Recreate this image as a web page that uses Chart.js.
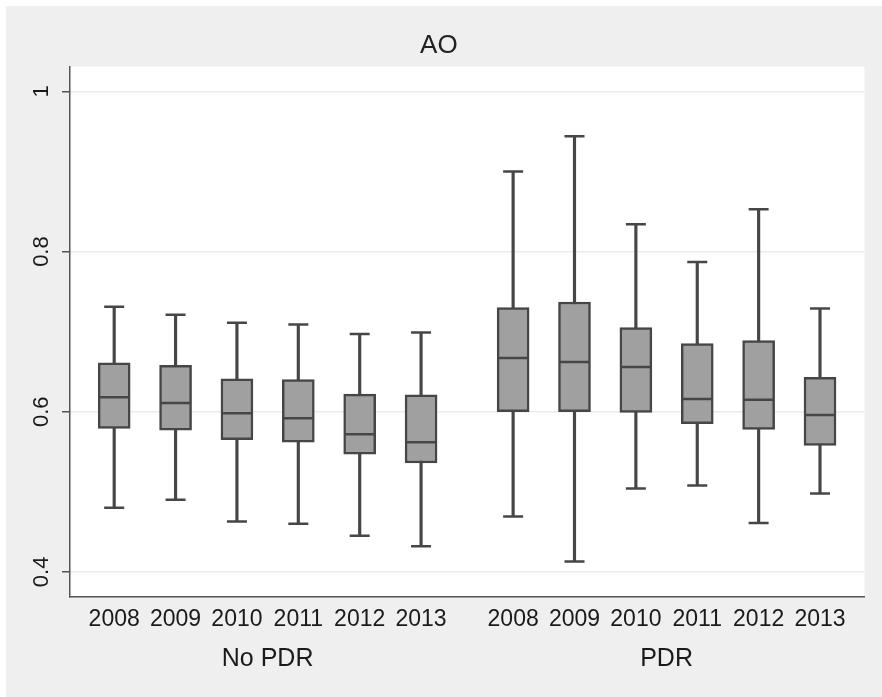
<!DOCTYPE html>
<html>
<head>
<meta charset="utf-8">
<script src="https://cdn.jsdelivr.net/npm/chart.js@4.4.1/dist/chart.umd.min.js"></script>
<style>
  html, body { margin: 0; padding: 0; background: #fff; }
  #wrap { position: absolute; left: 6px; top: 6px; width: 876px; height: 691px; }
</style>
</head>
<body>
<div id="wrap"><canvas id="chart" width="876" height="691"></canvas></div>
<script>
const years = ['2008', '2009', '2010', '2011', '2012', '2013'];
const groups = ['No PDR', 'PDR'];
const yTicks = [0.4, 0.6, 0.8, 1];
const yTickLabels = ['0.4', '0.6', '0.8', '1'];

// box plot stats per year: lower whisker, q1, median, q3, upper whisker
const noPdrMin = [0.480, 0.490, 0.463, 0.460, 0.445, 0.432];
const noPdrQ1 = [0.579, 0.577, 0.565, 0.562, 0.547, 0.536];
const noPdrMed = [0.618, 0.611, 0.598, 0.592, 0.572, 0.562];
const noPdrQ3 = [0.661, 0.658, 0.641, 0.640, 0.622, 0.621];
const noPdrMax = [0.731, 0.721, 0.711, 0.709, 0.697, 0.699];

const pdrMin = [0.469, 0.413, 0.504, 0.508, 0.461, 0.498];
const pdrQ1 = [0.600, 0.600, 0.599, 0.585, 0.578, 0.558];
const pdrMed = [0.667, 0.662, 0.656, 0.616, 0.615, 0.596];
const pdrQ3 = [0.730, 0.737, 0.705, 0.685, 0.689, 0.643];
const pdrMax = [0.900, 0.944, 0.834, 0.787, 0.853, 0.729];

const FONT = "'Liberation Sans', Arial, sans-serif";
const INK = '#464646';

// position of a box on the x axis: groups separated by a half slot gap
const slot = (g, i) => g * (years.length + 0.5) + i + 1;

const stats = [
  { min: noPdrMin, q1: noPdrQ1, med: noPdrMed, q3: noPdrQ3, max: noPdrMax },
  { min: pdrMin, q1: pdrQ1, med: pdrMed, q3: pdrQ3, max: pdrMax },
];

const boxes = [], whiskers = [], medians = [], capsHi = [], capsLo = [], xPositions = [];
stats.forEach((s, g) => {
  years.forEach((yr, i) => {
    const x = slot(g, i);
    xPositions.push(x);
    boxes.push({ x, y: [s.q1[i], s.q3[i]] });
    whiskers.push({ x, y: [s.min[i], s.max[i]] });
    medians.push({ x, y: s.med[i] });
    capsHi.push({ x, y: s.max[i] });
    capsLo.push({ x, y: s.min[i] });
  });
});
const groupCenters = groups.map((_, g) => slot(g, (years.length - 1) / 2));

const xMin = 0.28;
const xMax = 13.225;

const bgPlugin = {
  id: 'bg',
  beforeDraw(chart) {
    const { ctx, chartArea: a } = chart;
    ctx.save();
    ctx.fillStyle = '#efefef';
    ctx.fillRect(0, 0, chart.width, chart.height);
    ctx.fillStyle = '#ffffff';
    ctx.fillRect(a.left, a.top, a.right - a.left, a.bottom - a.top);
    ctx.restore();
  }
};

const ctx = document.getElementById('chart').getContext('2d');
new Chart(ctx, {
  type: 'bar',
  data: {
    datasets: [
      {
        type: 'scatter', data: medians, pointStyle: 'line', radius: 15,
        borderColor: INK, borderWidth: 2.5, backgroundColor: INK,
      },
      {
        type: 'scatter', data: capsHi, pointStyle: 'line', radius: 10,
        borderColor: INK, borderWidth: 2.5, backgroundColor: INK,
      },
      {
        type: 'scatter', data: capsLo, pointStyle: 'line', radius: 10,
        borderColor: INK, borderWidth: 2.5, backgroundColor: INK,
      },
      {
        type: 'bar', data: boxes, grouped: false, barThickness: 32,
        backgroundColor: '#a0a0a0', borderColor: INK, borderWidth: 2.5,
        borderSkipped: false,
      },
      {
        type: 'bar', data: whiskers, grouped: false, barThickness: 2.5,
        backgroundColor: INK, borderWidth: 0,
      },
    ],
  },
  options: {
    responsive: false,
    animation: false,
    events: [],
    layout: { padding: { left: 0, right: 10.3, top: 0, bottom: 0 } },
    plugins: {
      legend: { display: false },
      tooltip: { enabled: false },
      title: {
        display: true,
        text: 'AO',
        color: '#222',
        font: { family: FONT, size: 26, weight: 'normal' },
        padding: { top: 24, bottom: 5.4 },
      },
    },
    scales: {
      x: {
        type: 'linear',
        min: xMin,
        max: xMax,
        bounds: 'data',
        offset: false,
        weight: 0,
        grid: { display: false, drawTicks: false },
        border: { display: true, color: '#555', width: 1.5 },
        afterBuildTicks: s => { s.ticks = xPositions.map(v => ({ value: v })); },
        afterFit: s => { s.height = 36.4; },
        ticks: {
          autoSkip: false,
          maxRotation: 0,
          padding: 9.4,
          color: '#1a1a1a',
          font: { family: FONT, size: 23 },
          callback: (v, i) => years[i % years.length],
        },
      },
      g: {
        type: 'linear',
        position: 'bottom',
        min: xMin,
        max: xMax,
        bounds: 'data',
        offset: false,
        weight: 1,
        grid: { display: false, drawTicks: false },
        border: { display: false },
        afterBuildTicks: s => { s.ticks = groupCenters.map(v => ({ value: v })); },
        afterFit: s => { s.height = 63.9; },
        ticks: {
          autoSkip: false,
          maxRotation: 0,
          padding: 10.9,
          color: '#1a1a1a',
          font: { family: FONT, size: 25 },
          callback: (v, i) => groups[i],
        },
      },
      y: {
        type: 'linear',
        min: 0.369,
        max: 1.031,
        bounds: 'data',
        afterBuildTicks: s => { s.ticks = yTicks.map(v => ({ value: v })); },
        afterFit: s => { s.width = 64; },
        grid: { color: '#ebebeb', lineWidth: 1.5, tickColor: '#555', tickWidth: 1.5, tickLength: 8 },
        border: { display: true, color: '#555', width: 1.5 },
        ticks: {
          minRotation: 90,
          maxRotation: 90,
          crossAlign: 'center',
          padding: 4.3,
          color: '#1a1a1a',
          font: { family: FONT, size: 22 },
          callback: (v, i) => yTickLabels[i],
        },
      },
    },
  },
  plugins: [bgPlugin],
});
</script>
</body>
</html>
